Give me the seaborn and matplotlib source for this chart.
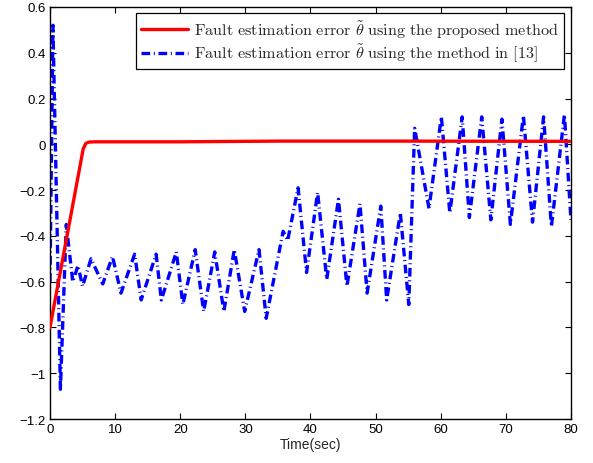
import numpy as np
import pandas as pd
import seaborn as sns
import matplotlib
matplotlib.use("Agg")
import matplotlib.pyplot as plt
from matplotlib.ticker import FixedLocator, FixedFormatter

# ---- data ----
red_t = [0, 5.1, 5.5, 6.0, 7.0, 20.0, 35.0, 55.0, 80.0]
red_y = [-0.8, -0.02, 0.004, 0.010, 0.011, 0.011, 0.014, 0.014, 0.013]

blue_t = [0, 0.45, 1.6, 2.5, 3.5, 4.3, 5.0, 6.3, 8.1, 9.6, 10.9, 13.0, 14.0,
          16.3, 17.1, 19.4, 20.4, 22.3, 23.6, 25.3, 26.7, 28.3, 29.9, 32.1,
          33.2, 35.8, 36.5, 38.1, 39.4, 41.1, 42.5, 44.3, 45.6, 47.6, 48.7,
          50.8, 51.7, 53.8, 55.1, 56.0, 58.2, 60.1, 61.4, 63.3, 64.4, 66.3,
          67.7, 69.4, 70.7, 72.7, 74.1, 75.8, 77.0, 79.0, 80.0]
blue_y = [-0.6, 0.52, -1.07, -0.35, -0.60, -0.53, -0.62, -0.50, -0.61, -0.49,
          -0.65, -0.48, -0.68, -0.48, -0.68, -0.47, -0.70, -0.46, -0.73, -0.47,
          -0.73, -0.46, -0.73, -0.46, -0.76, -0.38, -0.42, -0.19, -0.56, -0.21,
          -0.59, -0.24, -0.62, -0.26, -0.65, -0.27, -0.68, -0.30, -0.70, 0.07,
          -0.28, 0.12, -0.30, 0.12, -0.32, 0.12, -0.33, 0.11, -0.35, 0.125,
          -0.34, 0.12, -0.36, 0.13, -0.33]

xticks = [0, 10, 20, 30, 40, 50, 60, 70, 80]
xtick_labels = ["0", "10", "20", "30", "40", "50", "60", "70", "80"]
yticks = [-1.2, -1.0, -0.8, -0.6, -0.4, -0.2, 0.0, 0.2, 0.4, 0.6]
ytick_labels = ["\u22121.2", "\u22121", "\u22120.8", "\u22120.6", "\u22120.4",
                "\u22120.2", "0", "0.2", "0.4", "0.6"]

label_red = r"$\mathrm{Fault\ estimation\ error\ }\tilde{\theta}\mathrm{\ using\ the\ proposed\ method}$"
label_blue = r"$\mathrm{Fault\ estimation\ error\ }\tilde{\theta}\mathrm{\ using\ the\ method\ in\ [13]}$"

sns.set_style("white")
plt.rcParams["font.family"] = ["Liberation Sans", "DejaVu Sans"]
plt.rcParams["mathtext.fontset"] = "cm"

fig = plt.figure(figsize=(5.93, 4.64), dpi=100)
ax = fig.add_axes([0.0843, 0.0948, 0.8785, 0.888])

df_red = pd.DataFrame({"t": red_t, "y": red_y})
df_blue = pd.DataFrame({"t": blue_t, "y": blue_y})

sns.lineplot(data=df_red, x="t", y="y", ax=ax, color="#ff0000", linewidth=2.4,
             label=label_red, sort=False, zorder=3)
sns.lineplot(data=df_blue, x="t", y="y", ax=ax, color="#0000ff", linewidth=2.4,
             label=label_blue, sort=False, zorder=2)
lines = ax.get_lines()
lines[1].set_linestyle((0, (2.6, 1.1, 0.3, 1.1)))

ax.set_xlim(0, 80)
ax.set_ylim(-1.2, 0.6)
ax.xaxis.set_major_locator(FixedLocator(xticks))
ax.xaxis.set_major_formatter(FixedFormatter(xtick_labels))
ax.yaxis.set_major_locator(FixedLocator(yticks))
ax.yaxis.set_major_formatter(FixedFormatter(ytick_labels))
ax.tick_params(direction="in", length=4, width=0.8, top=True, right=True,
               bottom=True, left=True, labelsize=9.5, pad=3, colors="black")
for s in ax.spines.values():
    s.set_color("black")
    s.set_linewidth(1.0)
ax.set_xlabel("Time(sec)", fontsize=10, labelpad=1)
ax.set_ylabel("")

leg = ax.legend(loc="upper right", fontsize=11.7, frameon=True, fancybox=False,
                edgecolor="black", framealpha=1, borderpad=0.3, handlelength=2.9,
                handletextpad=0.4, labelspacing=0.1, borderaxespad=0.4)
leg.get_frame().set_linewidth(0.9)

fig.savefig("out.png", dpi=100)
